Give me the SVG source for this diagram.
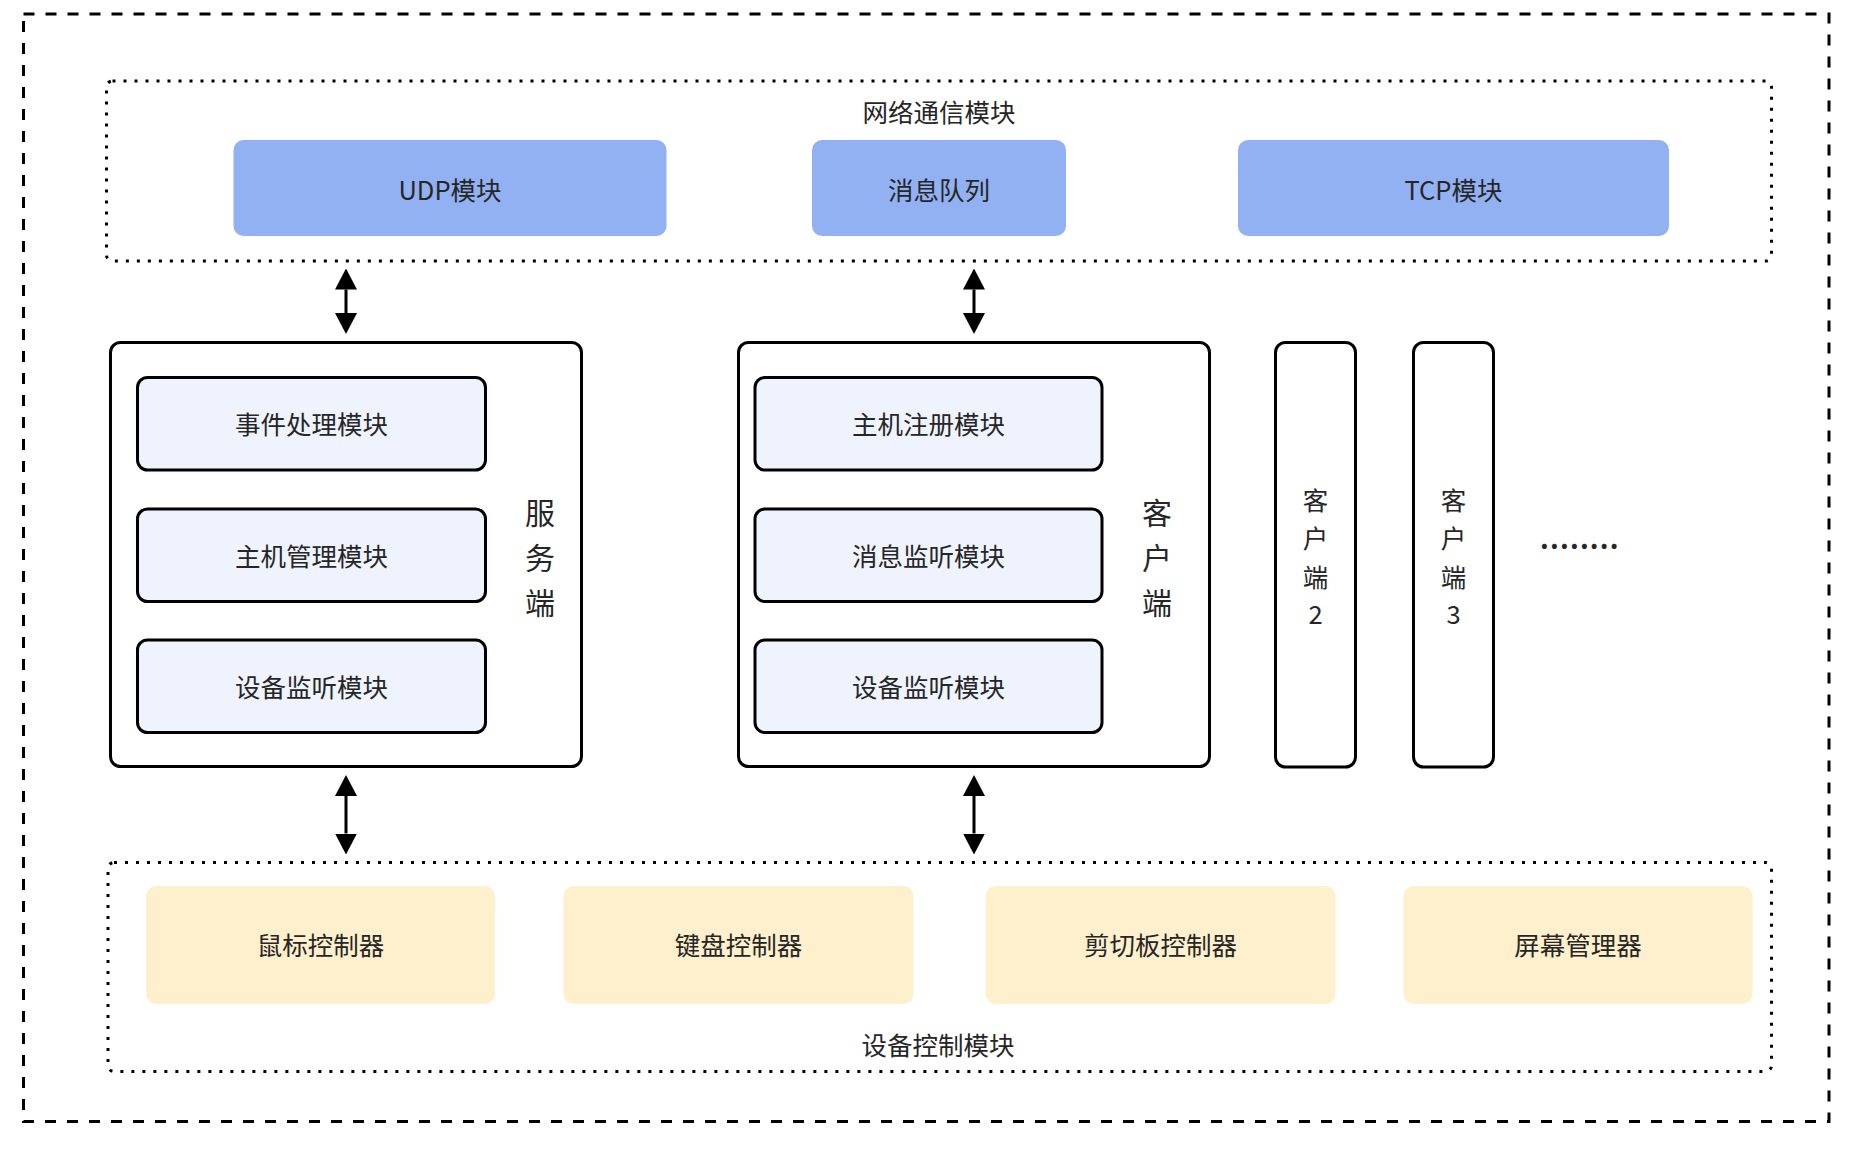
<svg xmlns="http://www.w3.org/2000/svg" width="1854" height="1149" viewBox="0 0 1854 1149">
<style>
text{font-family:"Noto Sans CJK SC","Noto Sans",sans-serif;fill:#262626;}
.t{font-size:25.5px;text-anchor:middle;}
.v{font-size:30px;text-anchor:middle;}
.s{font-size:25.5px;text-anchor:middle;}
.outer{fill:none;stroke:#000;stroke-width:3;stroke-dasharray:11 11;}
.dot{fill:none;stroke:#000;stroke-width:3;stroke-dasharray:3 8;}
.blue{fill:#92b1f2;}
.yel{fill:#fef0cc;}
.frame{fill:#fff;stroke:#000;stroke-width:3;}
.inner{fill:#eef3fd;stroke:#000;stroke-width:3;}
.conn line{stroke:#000;stroke-width:3;marker-start:url(#ah);marker-end:url(#ah);}
</style>
<defs>
<marker id="ah" viewBox="0 0 21 22" markerWidth="21" markerHeight="22" refX="0" refY="11" orient="auto-start-reverse" markerUnits="userSpaceOnUse">
<path d="M0,0 L21,11 L0,22 Z" fill="#000"/>
</marker>
</defs>
<rect width="1854" height="1149" fill="#fff"/>
<rect id="outer" class="outer" x="23.5" y="14" width="1805.5" height="1107.5"/>

<g id="network">
<rect class="dot" x="106.5" y="81" width="1665" height="180" rx="6"/>
<text class="t" x="939" y="122">网络通信模块</text>
</g>
<g id="udp"><rect class="blue" x="233.5" y="140" width="433" height="96" rx="10"/><text class="t" x="450" y="200">UDP模块</text></g>
<g id="mq"><rect class="blue" x="812" y="140" width="254" height="96" rx="10"/><text class="t" x="939" y="200">消息队列</text></g>
<g id="tcp"><rect class="blue" x="1238" y="140" width="431" height="96" rx="10"/><text class="t" x="1453.5" y="200">TCP模块</text></g>

<g id="server">
<rect class="frame" x="110.5" y="342.5" width="471" height="424" rx="10"/>
<text class="v" x="540" y="524">服</text>
<text class="v" x="540" y="569">务</text>
<text class="v" x="540" y="614">端</text>
</g>
<g id="s1"><rect class="inner" x="137.5" y="377.5" width="348" height="92.5" rx="10"/><text class="t" x="311.5" y="434">事件处理模块</text></g>
<g id="s2"><rect class="inner" x="137.5" y="509" width="348" height="92.5" rx="10"/><text class="t" x="311.5" y="565.5">主机管理模块</text></g>
<g id="s3"><rect class="inner" x="137.5" y="640" width="348" height="92.5" rx="10"/><text class="t" x="311.5" y="696.5">设备监听模块</text></g>

<g id="client">
<rect class="frame" x="738.5" y="342.5" width="471" height="424" rx="10"/>
<text class="v" x="1157" y="524">客</text>
<text class="v" x="1157" y="569">户</text>
<text class="v" x="1157" y="614">端</text>
</g>
<g id="c1"><rect class="inner" x="755" y="377.5" width="347" height="92.5" rx="10"/><text class="t" x="928.5" y="434">主机注册模块</text></g>
<g id="c2"><rect class="inner" x="755" y="509" width="347" height="92.5" rx="10"/><text class="t" x="928.5" y="565.5">消息监听模块</text></g>
<g id="c3"><rect class="inner" x="755" y="640" width="347" height="92.5" rx="10"/><text class="t" x="928.5" y="696.5">设备监听模块</text></g>

<g id="client2">
<rect class="frame" x="1275.5" y="342.5" width="80" height="424.5" rx="10"/>
<text class="s" x="1315.5" y="509.5">客</text>
<text class="s" x="1315.5" y="548">户</text>
<text class="s" x="1315.5" y="586.5">端</text>
<text class="s" x="1315.5" y="624">2</text>
</g>
<g id="client3">
<rect class="frame" x="1413.5" y="342.5" width="80" height="424.5" rx="10"/>
<text class="s" x="1453.5" y="509.5">客</text>
<text class="s" x="1453.5" y="548">户</text>
<text class="s" x="1453.5" y="586.5">端</text>
<text class="s" x="1453.5" y="624">3</text>
</g>
<g id="more"><text x="1540" y="549" style="font-size:27px;font-weight:bold;letter-spacing:1.2px;">........</text></g>

<g id="device">
<rect class="dot" x="108" y="862.5" width="1663.5" height="209" rx="6"/>
<text class="t" x="938" y="1055">设备控制模块</text>
</g>
<g id="mouse"><rect class="yel" x="146" y="886" width="349" height="118" rx="10"/><text class="t" x="320.5" y="955">鼠标控制器</text></g>
<g id="keyboard"><rect class="yel" x="563.5" y="886" width="350" height="118" rx="10"/><text class="t" x="738.5" y="955">键盘控制器</text></g>
<g id="clipboard"><rect class="yel" x="985.5" y="886" width="350" height="118" rx="10"/><text class="t" x="1160.5" y="955">剪切板控制器</text></g>
<g id="screen"><rect class="yel" x="1403.5" y="886" width="349" height="118" rx="10"/><text class="t" x="1578" y="955">屏幕管理器</text></g>

<g id="connectors" class="conn">
<line x1="346" y1="289.5" x2="346" y2="313"/>
<line x1="974" y1="289.5" x2="974" y2="313"/>
<line x1="346" y1="796" x2="346" y2="833.5"/>
<line x1="974" y1="796" x2="974" y2="833.5"/>
</g>
</svg>
